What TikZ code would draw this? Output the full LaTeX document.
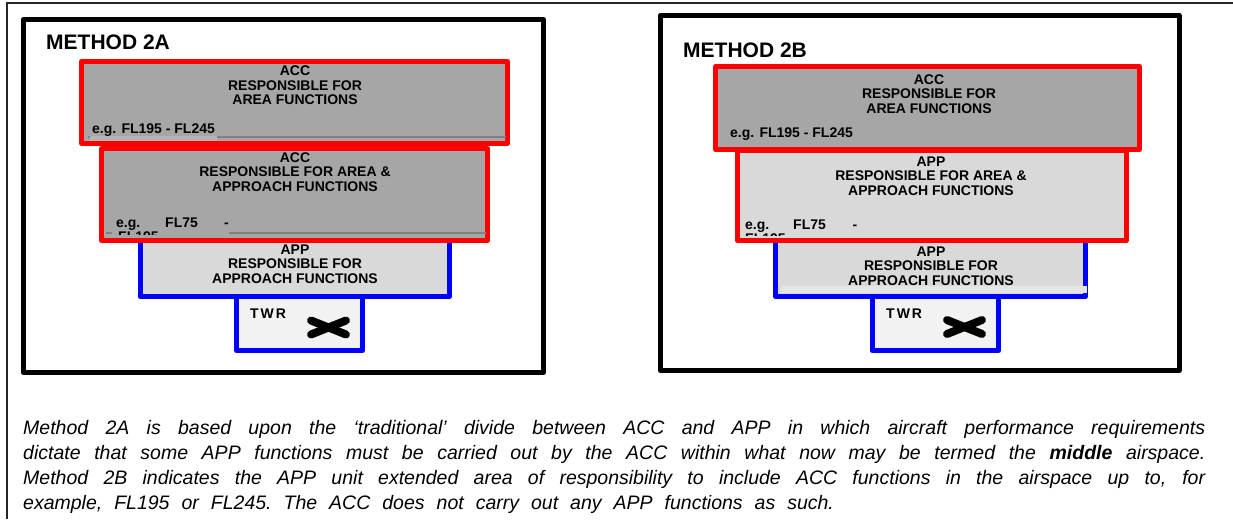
\documentclass[tikz,border=0pt]{standalone}
\usepackage{fontspec}
\setmainfont{Liberation Sans}
\definecolor{layerdark}{HTML}{A6A6A6}
\definecolor{layerlight}{HTML}{D9D9D9}
\definecolor{twrfill}{HTML}{F2F2F2}
\definecolor{layerrule}{HTML}{808080}
\definecolor{rulelight}{HTML}{B4B4B4}

\begin{document}
\begin{tikzpicture}[x=1pt,y=-1pt,
    every node/.style={inner sep=0pt},
    frame/.style={line width=5pt, line join=round},
    redlayer/.style={draw=red, line width=5pt, line join=round},
    bluelayer/.style={draw=blue, line width=5pt, line join=round},
    lbl/.style={font=\bfseries\fontsize{14}{14.5}\selectfont, align=center},
    fl/.style={font=\bfseries\fontsize{14}{14.5}\selectfont, anchor=base west},
    title/.style={font=\bfseries\fontsize{21}{21}\selectfont, anchor=base west},
    twr/.style={font=\bfseries\fontsize{14}{14}\selectfont, anchor=base west},
    cross/.style={line width=8pt, line cap=round},
    rule/.style={draw=layerrule, line width=2pt}]

    % 画布
    \useasboundingbox (0,0) rectangle (1233,519);
    \clip (0,0) rectangle (1233,519);
    \fill[white] (0,0) rectangle (1233,519);

    % 外框（上边和左边）
    \draw[line width=1.5pt, black!85] (7,519) -- (7,3) -- (1233,3);

    % ---------- METHOD 2A ----------
    \draw[frame] (23.5,19.5) rectangle (543.5,372.5);
    \node[title] (tA) at (46,50) {METHOD 2A};

    % TWR
    \draw[bluelayer, fill=twrfill] (236.5,296) rectangle (362.5,350.5);
    \node[twr] (twrA) at (250,318) {T\kern2pt W\kern2pt R};
    \draw[cross] (311,320.5) -- (346,334.5);
    \draw[cross] (311,334.5) -- (346,320.5);

    % APP
    \draw[bluelayer, fill=layerlight] (140,238) rectangle (449.5,296.5);
    \node[lbl] (appA) at (295,264) {APP\\RESPONSIBLE FOR\\APPROACH FUNCTIONS};

    % ACC 区域与进近
    \draw[redlayer, fill=layerdark] (101.5,148.5) rectangle (487.5,240.5);
    \node[lbl] (midA) at (295,172) {ACC\\RESPONSIBLE FOR AREA \&\\APPROACH FUNCTIONS};
    \draw[rule] (106,233) -- (112,233);
    \draw[rule] (229,233) -- (486,233);
    \node[fl] (egA2) at (116,227) {e.g.};
    \node[fl] (flA2) at (165,227) {FL75};
    \node[fl] (dA2) at (224,227) {-};
    \begin{scope}
        \clip (100,225) rectangle (240,234);
        \node[fl] (cutA) at (118,241.5) {FL195};
    \end{scope}

    % ACC 区域
    \draw[redlayer, fill=layerdark] (81.5,61.5) rectangle (507.5,143.5);
    \node[lbl] (accA) at (295,85.5) {ACC\\RESPONSIBLE FOR\\AREA FUNCTIONS};
    \fill[rulelight] (90,136) rectangle (217,141);
    \draw[rule] (88,137) -- (90,137);
    \draw[rule] (217,137) -- (506,137);
    \node[fl] (egA1) at (92,133) {e.g. FL195 - FL245};

    % ---------- METHOD 2B ----------
    \draw[frame] (660.3,15.5) rectangle (1179.1,370.5);
    \node[title] (tB) at (683,57.5) {METHOD 2B};

    % TWR
    \draw[bluelayer, fill=twrfill] (872,296) rectangle (998.5,350.5);
    \node[twr] (twrB) at (886,318) {T\kern2pt W\kern2pt R};
    \draw[cross] (947,320) -- (982,334);
    \draw[cross] (947,334) -- (982,320);

    % APP
    \draw[bluelayer, fill=layerlight] (775.5,238) rectangle (1085.5,296.5);
    \fill[black!10] (781,286) rectangle (1087,293);
    \node[lbl] (appB) at (931,266) {APP\\RESPONSIBLE FOR\\APPROACH FUNCTIONS};

    % APP 区域与进近
    \draw[redlayer, fill=layerlight] (737.5,150.5) rectangle (1126,240.5);
    \node[lbl] (midB) at (931,176) {APP\\RESPONSIBLE FOR AREA \&\\APPROACH FUNCTIONS};
    \node[fl] (egB2) at (745,229) {e.g.};
    \node[fl] (flB2) at (793,229) {FL75};
    \node[fl] (dB2) at (852.5,229) {-};
    \begin{scope}
        \clip (740,226) rectangle (860,235);
        \node[fl] (cutB) at (745,243.5) {FL195};
    \end{scope}

    % ACC 区域
    \draw[redlayer, fill=layerdark] (715.5,66.5) rectangle (1139.5,149.5);
    \node[lbl] (accB) at (929,94) {ACC\\RESPONSIBLE FOR\\AREA FUNCTIONS};
    \node[fl] (egB1) at (730,137) {e.g. FL195 - FL245};

    % 说明文字
    \node[anchor=north west, text width=1182pt, align=justify,
          font=\itshape\fontsize{19.5}{25}\selectfont] (note) at (23,420)
        {\spaceskip=12pt plus 8pt minus 3pt \xspaceskip=12pt plus 8pt minus 3pt
         Method 2A is based upon the ‘traditional’ divide between ACC and APP in which aircraft performance requirements\linebreak
         dictate that some APP functions must be carried out by the ACC within what now may be termed the \textbf{middle} airspace.\linebreak
         Method 2B indicates the APP unit extended area of responsibility to include ACC functions in the airspace up to, for\linebreak
         example, FL195 or FL245. The ACC does not carry out any APP functions as such.};

\end{tikzpicture}
\end{document}
